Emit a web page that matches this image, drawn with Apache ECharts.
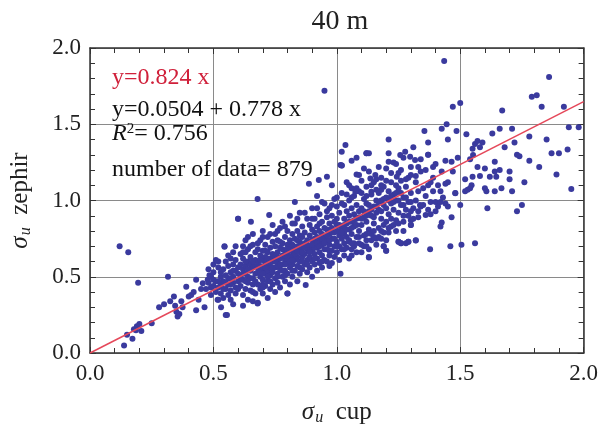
<!DOCTYPE html>
<html>
<head>
<meta charset="utf-8">
<script src="https://cdn.jsdelivr.net/npm/echarts@6/dist/echarts.min.js"></script>
<style>
html,body{margin:0;padding:0;background:#fff;}
#c{width:601px;height:438px;}
</style>
</head>
<body>
<div id="c"></div>
<script>
// ---- data ----
const titleText = "40 m";
const xTicks = [0.0, 0.5, 1.0, 1.5, 2.0];
const yTicks = [0.0, 0.5, 1.0, 1.5, 2.0];
const fitSlope = 0.824;
const fitLine = [[0, 0], [2.0, 1.648]];
const annotations = ["y=0.824 x", "y=0.0504 + 0.778 x", "R", "2", "= 0.756", "number of data= 879"];

const pointsLow = [
[0.12,0.70],[0.155,0.66],[0.138,0.05],[0.172,0.094],[0.15,0.12],[0.178,0.155],[0.19,0.175],[0.2,0.19],
[0.186,0.15],[0.208,0.145],[0.195,0.46],[0.25,0.195],[0.28,0.30],[0.30,0.32],[0.316,0.50],[0.325,0.34],
[0.34,0.37],[0.35,0.27],[0.355,0.24],[0.362,0.255],[0.37,0.34],[0.375,0.30],[0.39,0.435],[0.345,0.31],
[0.40,0.37],[0.41,0.38],[0.42,0.40],[0.43,0.28],[0.44,0.35],[0.45,0.42],[0.457,0.457],[0.464,0.30],
[0.477,0.48],[0.484,0.51],[0.49,0.43],[0.517,0.35],[0.531,0.30],[0.55,0.25],[0.555,0.25],[0.43,0.48]
];
const pointsCoreA = [
[0.47,0.42],[0.48,0.46],[0.49,0.38],[0.49,0.50],[0.50,0.44],[0.50,0.53],[0.51,0.40],[0.51,0.47],[0.52,0.56],[0.52,0.43],
[0.52,0.35],[0.53,0.50],[0.53,0.45],[0.50,0.58],[0.51,0.61],[0.53,0.39],[0.48,0.55],[0.52,0.60],[0.53,0.53],[0.50,0.48],
[0.545,0.70],[0.54,0.47],[0.54,0.55],[0.55,0.42],[0.55,0.51],[0.55,0.60],[0.56,0.38],[0.56,0.45],[0.56,0.49],[0.56,0.57],
[0.57,0.41],[0.57,0.53],[0.57,0.62],[0.57,0.35],[0.58,0.46],[0.58,0.50],[0.58,0.58],[0.58,0.66],[0.59,0.43],[0.59,0.54],
[0.59,0.39],[0.59,0.61],[0.60,0.47],[0.60,0.52],[0.60,0.56],[0.60,0.88],[0.58,0.32],[0.56,0.64],[0.54,0.36],[0.57,0.49],
[0.59,0.70],[0.61,0.44],[0.61,0.51],[0.61,0.58],[0.61,0.65],[0.62,0.38],[0.62,0.48],[0.62,0.55],[0.62,0.62],[0.62,0.70],
[0.63,0.42],[0.63,0.52],[0.63,0.57],[0.63,0.66],[0.63,0.74],[0.64,0.35],[0.64,0.46],[0.64,0.50],[0.64,0.60],[0.64,0.68],
[0.65,0.41],[0.65,0.54],[0.65,0.58],[0.65,0.63],[0.652,0.86],[0.66,0.45],[0.66,0.49],[0.66,0.56],[0.66,0.71],[0.66,0.78],
[0.67,0.39],[0.67,0.52],[0.67,0.61],[0.67,0.66],[0.62,0.31],[0.64,0.76],[0.66,0.34],[0.67,0.57],[0.63,0.47],
[0.68,0.33],[0.68,0.45],[0.68,0.53],[0.68,0.60],[0.68,0.68],[0.679,1.01],[0.69,0.42],[0.69,0.50],[0.69,0.57],[0.69,0.64],
[0.69,0.74],[0.70,0.39],[0.70,0.48],[0.70,0.55],[0.70,0.61],[0.70,0.67],[0.70,0.80],[0.71,0.44],[0.71,0.52],[0.71,0.59],
[0.71,0.63],[0.71,0.71],[0.72,0.36],[0.72,0.47],[0.72,0.54],[0.72,0.58],[0.72,0.66],[0.72,0.76],[0.726,0.905],[0.73,0.42],
[0.73,0.51],[0.73,0.56],[0.73,0.62],[0.73,0.69],[0.74,0.45],[0.74,0.53],[0.74,0.60],[0.74,0.65],[0.74,0.73],[0.74,0.84],
[0.70,0.43],[0.72,0.62],[0.69,0.53],[0.71,0.67],[0.679,0.325],[0.545,0.697],[0.60,0.88]
];
const pointsCoreB = [
[0.75,0.40],[0.75,0.49],[0.75,0.56],[0.75,0.63],[0.75,0.70],[0.75,0.78],[0.76,0.46],[0.76,0.52],[0.76,0.60],[0.76,0.66],
[0.76,0.74],[0.77,0.43],[0.77,0.55],[0.77,0.62],[0.77,0.69],[0.77,0.82],[0.78,0.50],[0.78,0.58],[0.78,0.64],[0.78,0.72],
[0.78,0.86],[0.79,0.47],[0.79,0.54],[0.79,0.61],[0.79,0.67],[0.79,0.76],[0.80,0.39],[0.80,0.52],[0.80,0.59],[0.80,0.65],
[0.80,0.71],[0.80,0.80],[0.81,0.45],[0.81,0.56],[0.81,0.63],[0.81,0.69],[0.81,0.74],[0.81,0.90],[0.76,0.57],[0.78,0.68],
[0.80,0.62],[0.77,0.73],[0.79,0.58],
[0.82,0.50],[0.82,0.58],[0.82,0.64],[0.82,0.71],[0.82,0.78],[0.83,0.99],[0.83,0.54],[0.83,0.61],[0.83,0.68],[0.83,0.75],
[0.83,0.85],[0.84,0.47],[0.84,0.57],[0.84,0.63],[0.84,0.70],[0.84,0.80],[0.85,0.52],[0.85,0.60],[0.85,0.66],[0.85,0.73],
[0.85,0.77],[0.85,0.92],[0.86,0.55],[0.86,0.63],[0.86,0.69],[0.86,0.76],[0.86,0.83],[0.874,0.446],[0.87,0.58],[0.87,0.65],
[0.87,0.72],[0.87,0.79],[0.88,0.53],[0.88,0.61],[0.88,0.68],[0.88,0.74],[0.88,0.88],[0.887,1.11],[0.84,0.74],[0.86,0.60],
[0.82,0.67],[0.80,0.39],
[0.89,0.56],[0.89,0.63],[0.89,0.70],[0.89,0.77],[0.89,0.84],[0.90,0.50],[0.90,0.60],[0.90,0.67],[0.90,0.74],[0.90,0.81],
[0.90,0.95],[0.91,0.58],[0.91,0.65],[0.91,0.72],[0.91,0.79],[0.91,0.88],[0.92,0.54],[0.92,0.62],[0.92,0.69],[0.92,0.76],
[0.92,0.83],[0.92,1.03],[0.93,0.59],[0.93,0.66],[0.93,0.73],[0.93,0.80],[0.93,0.91],[0.927,1.135],[0.94,0.56],[0.94,0.64],
[0.94,0.71],[0.94,0.78],[0.94,0.86],[0.95,0.61],[0.95,0.68],[0.95,0.75],[0.95,0.82],[0.95,0.98],[0.95,1.72],[0.91,0.69],
[0.93,0.85],
[0.96,1.156],[0.96,0.60],[0.96,0.68],[0.96,0.74],[0.96,0.81],[0.96,0.89],[0.97,0.64],[0.97,0.71],[0.97,0.78],[0.97,0.85],
[0.97,0.95],[0.98,1.10],[0.98,0.59],[0.98,0.67],[0.98,0.75],[0.98,0.82],[0.98,0.90],[0.99,0.63],[0.99,0.70],[0.99,0.79],
[0.99,0.86],[0.99,1.01],[1.00,0.66],[1.00,0.73],[1.00,0.80],[1.00,0.88],[1.00,0.96],[1.01,0.61],[1.01,0.70],[1.01,0.77],
[1.01,0.84],[1.01,0.92],[1.015,0.52],[1.02,1.23],[1.02,0.68],[1.02,0.75],[1.02,0.83],[1.02,1.05],[0.97,0.57]
];
const pointsCoreC = [
[1.03,0.64],[1.03,0.72],[1.03,0.80],[1.03,0.88],[1.03,0.97],[1.04,0.69],[1.04,0.76],[1.04,0.85],[1.04,0.93],[1.04,1.12],
[1.05,0.62],[1.05,0.73],[1.05,0.81],[1.05,0.90],[1.05,1.00],[1.06,0.68],[1.06,0.78],[1.06,0.86],[1.06,0.95],[1.06,1.08],
[1.07,0.72],[1.07,0.83],[1.07,0.91],[1.07,1.03],[1.08,0.66],[1.08,0.76],[1.08,0.88],[1.08,0.97],[1.08,1.17],[1.09,0.80],
[1.09,0.93],[1.09,1.06],
[1.10,0.71],[1.10,0.84],[1.10,0.95],[1.10,1.13],[1.11,0.77],[1.11,0.89],[1.11,1.01],[1.12,1.31],[1.12,0.74],[1.12,0.86],
[1.12,0.98],[1.12,1.09],[1.13,0.63],[1.13,0.81],[1.13,0.93],[1.13,1.31],[1.13,1.19],[1.14,0.78],[1.14,0.90],[1.14,1.04],
[1.15,0.85],[1.15,0.96],[1.15,1.12],[1.16,0.75],[1.16,0.92],[1.16,1.00],[1.16,1.07],
[1.17,0.82],[1.17,0.94],[1.17,1.05],[1.18,0.88],[1.18,1.00],[1.18,1.15],[1.19,0.70],[1.19,0.79],[1.19,0.97],[1.19,1.09],
[1.20,0.67],[1.20,0.86],[1.20,1.02],[1.20,1.21],[1.21,0.91],[1.21,1.06],[1.21,1.40],[1.22,0.83],[1.22,0.98],[1.22,1.12],
[1.23,0.94],[1.23,1.04],[1.23,1.25],
[1.24,0.87],[1.24,1.00],[1.24,1.10],[1.25,0.73],[1.25,0.92],[1.25,1.06],[1.25,1.18],[1.26,0.72],[1.26,0.97],[1.26,1.13],
[1.27,0.86],[1.27,1.02],[1.27,1.28],[1.28,0.72],[1.28,0.94],[1.28,1.09],[1.29,0.73],[1.29,0.99],[1.29,1.15],[1.30,0.84],
[1.30,0.87],[1.30,1.05],[1.30,1.22],[1.31,0.95],[1.31,1.35],
[1.32,0.74],[1.32,1.00],[1.32,1.12],[1.33,0.89],[1.33,1.06],[1.34,1.19],[1.34,0.96],[1.355,1.456],[1.36,0.905],[1.36,1.03],
[1.37,0.94],[1.37,1.38],[1.37,1.30],[1.37,1.10],[1.378,0.68],[1.38,0.99],[1.39,1.15],[1.39,1.06],[1.40,0.93],[1.40,1.24],
[1.03,0.78],[1.05,0.74],[1.07,0.70],[1.09,0.72],[1.11,0.70],[1.12,0.78],[1.14,0.74],[1.15,0.80],[1.17,0.76],[1.18,0.80],
[1.19,0.84],[1.21,0.79],[1.22,0.88],[1.23,0.84],[1.06,0.64],[1.10,0.66],[1.13,0.68],[1.16,0.71],[1.20,0.74],[1.25,0.85],
[1.27,0.80],[1.29,0.90],[1.31,0.88],[1.33,0.93],[1.35,0.97],[1.38,0.91],[1.30,0.99],[1.337,0.97],[1.13,0.627],[1.25,0.73],
[1.29,0.73],[1.32,0.737],[1.26,0.72],[1.20,0.67],[1.19,0.70],[1.30,0.84]
];
const pointsBandMid = [
[0.52,0.47],[0.54,0.42],[0.55,0.46],[0.57,0.45],[0.58,0.54],[0.60,0.42],[0.61,0.48],[0.62,0.52],[0.63,0.60],[0.64,0.55],
[0.65,0.49],[0.66,0.60],[0.67,0.47],[0.68,0.56],[0.69,0.61],[0.70,0.52],[0.71,0.56],[0.72,0.50],[0.73,0.59],[0.74,0.56],
[0.75,0.60],[0.76,0.63],[0.77,0.58],[0.78,0.54],[0.79,0.64],[0.80,0.68],[0.81,0.60],[0.82,0.61],[0.83,0.65],[0.84,0.67],
[0.85,0.70],[0.86,0.66],[0.87,0.69],[0.88,0.71],[0.89,0.66],[0.90,0.71],[0.91,0.75],[0.92,0.72],[0.93,0.70],[0.94,0.75],
[0.95,0.72],[0.96,0.77],[0.97,0.74],[0.98,0.79],[0.99,0.75],[1.00,0.84],[1.01,0.80],[1.02,0.79],[1.03,0.84],[1.04,0.81],
[1.05,0.86],[1.06,0.82],[1.07,0.87],[1.08,0.84],[1.09,0.89],[1.10,0.88],[1.11,0.93],[1.12,0.90],[1.13,0.97],[1.14,0.94],
[1.15,0.89],[1.16,0.96],[1.17,0.99],[1.18,0.93],[1.19,1.01],[1.20,0.95],[1.21,1.00],[1.22,1.03],[1.23,0.99],[1.24,1.05],
[1.25,1.00],[1.26,1.05],[1.27,0.97],[1.28,1.02]
];
const pointsBandEdges = [
[0.62,0.66],[0.65,0.70],[0.68,0.72],[0.70,0.76],[0.73,0.78],[0.76,0.80],[0.79,0.83],[0.82,0.85],[0.84,0.88],[0.87,0.92],
[0.90,0.88],[0.92,0.95],[0.94,0.99],[0.96,0.93],[0.98,0.97],[1.00,1.02],[1.02,0.98],[1.04,1.04],[1.06,1.02],[1.08,1.08],
[1.10,1.05],[1.12,1.03],[1.14,1.10],[1.16,1.14],[1.18,1.07],[1.20,1.13],[1.22,1.18],[1.26,1.20],[1.28,1.14],[1.32,1.16],
[1.35,1.08],[1.38,1.12],[1.42,1.06],[1.34,1.27],[1.39,1.22],
[0.66,0.40],[0.70,0.45],[0.73,0.47],[0.76,0.50],[0.79,0.51],[0.82,0.54],[0.85,0.56],[0.88,0.58],[0.91,0.62],[0.94,0.60],
[0.97,0.67],[1.00,0.70],[1.03,0.68],[1.06,0.72],[1.09,0.76],[1.12,0.70],[1.15,0.76],[1.18,0.75],[1.21,0.82],[1.24,0.80],
[1.27,0.90],[1.30,0.93]
];
const pointsUpper = [
[1.035,1.364],[1.02,1.32],[1.015,1.233],[1.05,1.10],[1.075,1.058],[1.09,1.167],[1.136,1.145],[1.156,1.167],[1.18,1.10],
[1.14,1.058],[1.21,1.254],[1.257,1.298],[1.277,1.32],[1.297,1.287],[1.317,1.266],[1.243,1.156],[1.25,1.08],[1.30,1.167],
[1.41,1.10],[1.45,1.12],[1.48,1.047],[1.425,1.19],[1.465,1.254],[1.33,1.22],[1.36,1.20],[1.21,1.31],[1.17,1.22],[1.24,1.24],
[1.11,1.21],[1.06,1.26],[1.08,1.28],[1.02,1.23],[1.12,1.31],[1.37,1.30]
];
const pointsHigh = [
[1.42,0.83],[1.425,0.855],[1.425,1.47],[1.43,1.02],[1.435,1.915],[1.44,1.11],[1.445,1.50],[1.45,1.40],[1.45,0.96],[1.46,0.70],
[1.465,0.89],[1.47,1.615],[1.47,1.19],[1.48,1.05],[1.485,1.455],[1.49,1.28],[1.50,1.64],[1.50,0.97],[1.505,0.71],[1.44,1.26],
[1.40,0.99],[1.41,0.96],[1.44,0.98],[1.42,0.99],
[1.525,1.434],[1.52,1.14],[1.53,1.07],[1.55,1.34],[1.56,1.37],[1.56,0.72],[1.57,1.39],[1.58,1.35],[1.59,1.38],[1.57,1.22],
[1.58,1.16],[1.60,1.08],[1.54,1.27],[1.61,0.95],
[1.552,1.298],[1.60,1.21],[1.64,1.254],[1.64,1.19],[1.62,1.156],[1.646,1.156],[1.66,1.20],[1.667,1.08],[1.64,1.06],[1.606,1.06],
[1.546,1.10],[1.54,1.08],[1.52,1.06],[1.55,1.156],[1.63,1.44],[1.66,1.47],[1.71,1.47],[1.67,1.59],[1.73,0.93],[1.75,0.97],
[1.78,1.42],[1.78,1.26],[1.73,1.30],[1.74,1.29],[1.70,1.19],[1.70,1.14],[1.71,1.06],[1.79,1.68],[1.81,1.69],[1.83,1.615],
[1.86,1.81],[1.87,1.31],[1.90,1.31],[1.92,1.615],[1.935,1.335],[1.94,1.48],[1.95,1.075],[1.98,1.48],[1.76,1.12],[1.82,1.22],
[1.85,1.40],[1.89,1.17],[1.68,1.35],[1.72,1.38]
];

const allPoints = pointsLow.concat(pointsCoreA, pointsCoreB, pointsCoreC, pointsBandMid, pointsBandEdges, pointsUpper, pointsHigh);

// ---- chart ----
const serif = "'Liberation Serif', 'Times New Roman', serif";
const frameColor = '#333';
const chart = echarts.init(document.getElementById('c'), null, {renderer: 'canvas'});

function axisCommon(pos, showLabel) {
  return {
    type: 'value', min: 0, max: 2, interval: 0.5, position: pos,
    axisLine: {show: true, onZero: false, lineStyle: {color: frameColor, width: 1.5}},
    axisTick: {show: true, inside: true, length: 6, lineStyle: {color: frameColor, width: 1}},
    minorTick: {show: true, splitNumber: 5, length: 5, lineStyle: {color: frameColor, width: 1}},
    splitLine: {show: showLabel, lineStyle: {color: '#8a8a8a', width: 1}},
    axisLabel: {show: showLabel, fontFamily: serif, fontSize: 23, color: '#222', margin: 9,
      formatter: function (v) { return v.toFixed(1); }}
  };
}
function nameRich() {
  return {fontFamily: serif, fontSize: 25, color: '#222', rich: {
    s: {fontFamily: serif, fontSize: 25, fontStyle: 'italic', color: '#222'},
    u: {fontFamily: serif, fontSize: 16, fontStyle: 'italic', color: '#222', verticalAlign: 'bottom', padding: [11, 0, 0, 1]},
    t: {fontFamily: serif, fontSize: 25, color: '#222'}
  }};
}

const xBottom = axisCommon('bottom', true);
xBottom.name = '{s|σ}{u|u}{t|  cup}';
xBottom.nameLocation = 'middle';
xBottom.nameGap = 46;
xBottom.nameTextStyle = nameRich();
const xTop = axisCommon('top', false);
const yLeft = axisCommon('left', true);
yLeft.name = '{s|σ}{u|u}{t|  zephir}';
yLeft.nameLocation = 'middle';
yLeft.nameGap = 56;
yLeft.nameRotate = 90;
yLeft.nameTextStyle = nameRich();
const yRight = axisCommon('right', false);

const option = {
  backgroundColor: '#fff',
  animation: false,
  grid: {left: 90, right: 15, top: 48, bottom: 85, containLabel: false},
  xAxis: [xBottom, xTop],
  yAxis: [yLeft, yRight],
  series: [
    {type: 'scatter', xAxisIndex: 0, yAxisIndex: 0, data: allPoints, symbolSize: 6,
     itemStyle: {color: '#3a3a9e', opacity: 1}, z: 2},
    {type: 'line', xAxisIndex: 0, yAxisIndex: 0, data: fitLine, symbol: 'none',
     lineStyle: {color: '#e5485a', width: 1.5}, z: 3}
  ],
  graphic: [
    {type: 'text', x: 340, y: 22, z: 10, style: {text: titleText, font: '28px ' + serif, fill: '#222', align: 'center', verticalAlign: 'middle'}},
    {type: 'text', x: 112, y: 78, z: 10, style: {text: annotations[0], font: '24px ' + serif, fill: '#d0203a', verticalAlign: 'middle'}},
    {type: 'text', x: 112, y: 110, z: 10, style: {text: annotations[1], font: '24px ' + serif, fill: '#111', verticalAlign: 'middle'}},
    {type: 'text', x: 112, y: 134, z: 10, style: {
      text: '{r|' + annotations[2] + '}{p|' + annotations[3] + '}{v|' + annotations[4] + '}',
      verticalAlign: 'middle',
      rich: {
        r: {font: 'italic 24px ' + serif, fill: '#111'},
        p: {font: '15px ' + serif, fill: '#111', verticalAlign: 'top'},
        v: {font: '24px ' + serif, fill: '#111'}
      }}},
    {type: 'text', x: 112, y: 170, z: 10, style: {text: annotations[5], font: '24px ' + serif, fill: '#111', verticalAlign: 'middle'}}
  ]
};
chart.setOption(option);
</script>
</body>
</html>
